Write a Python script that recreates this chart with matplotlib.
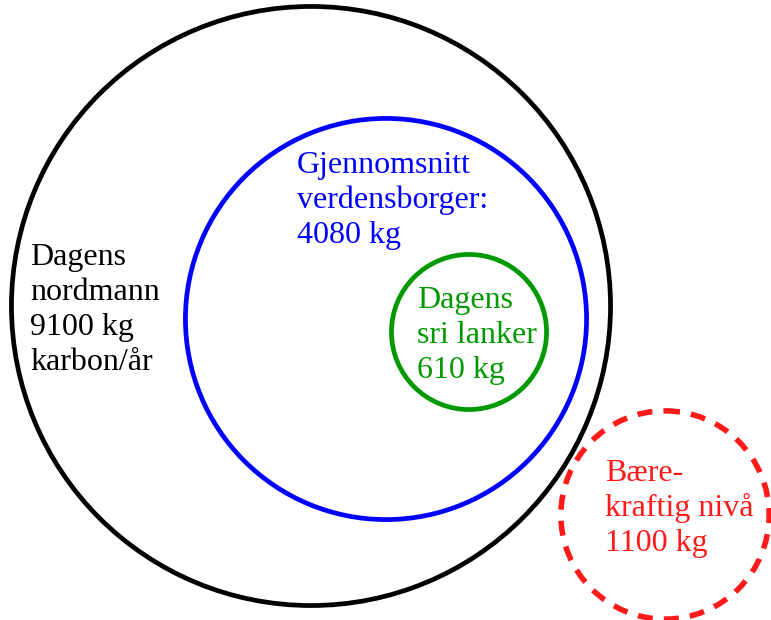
import numpy as np
import matplotlib.pyplot as plt
from matplotlib.patches import Circle

# verdier (kg karbon per person per år)
navn = ["nordmann", "verdensborger", "sri lanker", "bærekraftig"]
verdier = [9100, 4080, 610, 1100]
farger = ["#000000", "#0000ff", "#009a00", "#ff1a1a"]
tekster = [
    ["Dagens", "nordmann", "9100 kg", "karbon/år"],
    ["Gjennomsnitt", "verdensborger:", "4080 kg"],
    ["Dagens", "sri lanker", "610 kg"],
    ["Bære-", "kraftig nivå", "1100 kg"],
]

# plassering (piksler)
sentre = [(311, 306), (386, 319), (469, 332), (665, 515)]
tekst_pos = [(30, 265), (297, 173), (417, 308), (605, 481)]
linjeavstand = 35
skala = 3.14  # radius = skala * sqrt(verdi), areal ~ verdi

fig = plt.figure(figsize=(7.71, 6.2), dpi=100)
ax = fig.add_axes([0, 0, 1, 1])
ax.set_xlim(0, 771)
ax.set_ylim(620, 0)
ax.set_aspect("equal")
ax.axis("off")

for i in range(len(verdier)):
    r = skala * np.sqrt(verdier[i])
    if i == 3:
        c = Circle(sentre[i], r, fill=False, edgecolor=farger[i], linewidth=4.0,
                   linestyle=(0, (2.7, 2.0)))
    else:
        c = Circle(sentre[i], r, fill=False, edgecolor=farger[i], linewidth=3.4)
    ax.add_patch(c)
    x0, y0 = tekst_pos[i]
    for j, linje in enumerate(tekster[i]):
        ax.text(x0, y0 + j * linjeavstand, linje, color=farger[i], fontsize=23,
                family="Liberation Serif", ha="left", va="baseline")

fig.savefig("out.png", dpi=100)
